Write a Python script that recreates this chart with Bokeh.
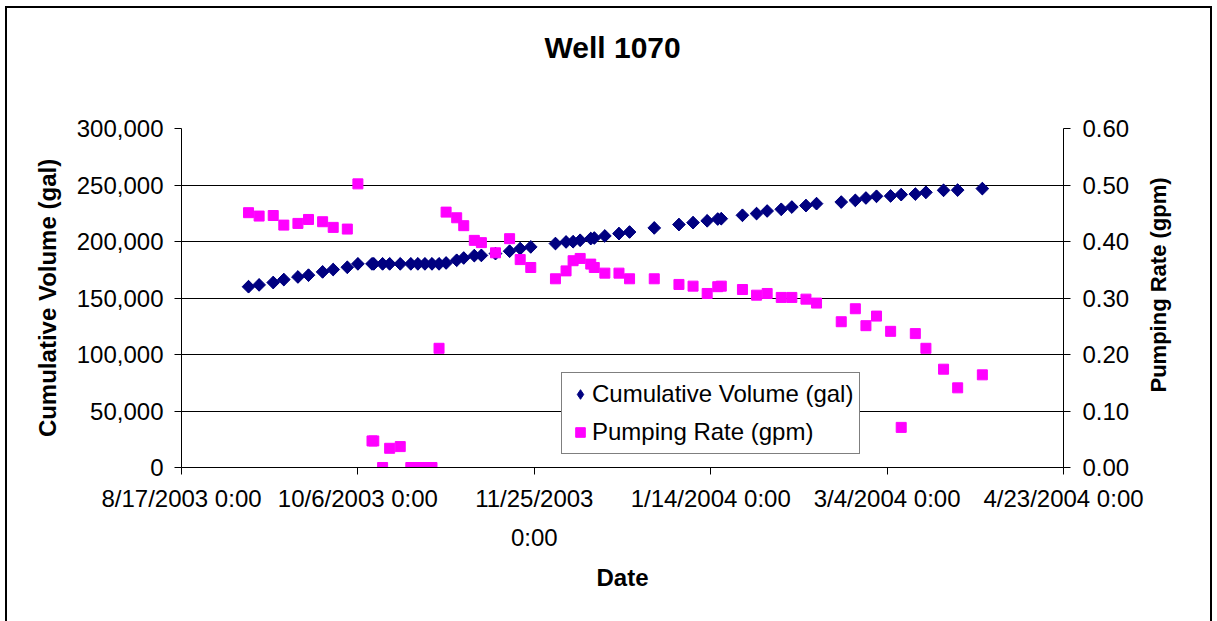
import pandas as pd
from math import pi
from bokeh.plotting import figure
from bokeh.models import (Range1d, LinearAxis, FixedTicker, NumeralTickFormatter,
                          Legend, LegendItem, ColumnDataSource, Title)
from bokeh.embed import file_html
from bokeh.resources import INLINE

# ---------------- data ----------------
title_text = "Well 1070"
x_title = "Date"
y_title = "Cumulative Volume (gal)"
y2_title = "Pumping Rate (gpm)"
series_names = ["Cumulative Volume (gal)", "Pumping Rate (gpm)"]

dates = [
    "2003-09-05", "2003-09-08", "2003-09-12", "2003-09-15", "2003-09-19",
    "2003-09-22", "2003-09-26", "2003-09-29", "2003-10-03", "2003-10-06",
    "2003-10-10 00:00", "2003-10-10 12:00", "2003-10-13", "2003-10-15", "2003-10-18",
    "2003-10-21", "2003-10-23", "2003-10-25", "2003-10-27", "2003-10-29",
    "2003-10-31", "2003-11-03", "2003-11-05", "2003-11-08", "2003-11-10",
    "2003-11-14", "2003-11-18", "2003-11-21", "2003-11-24", "2003-12-01",
    "2003-12-04", "2003-12-06", "2003-12-08", "2003-12-11", "2003-12-12",
    "2003-12-15", "2003-12-19", "2003-12-22", "2003-12-29", "2004-01-05",
    "2004-01-09", "2004-01-13", "2004-01-16", "2004-01-17", "2004-01-23",
    "2004-01-27", "2004-01-30", "2004-02-03", "2004-02-06", "2004-02-10",
    "2004-02-13", "2004-02-20", "2004-02-24", "2004-02-27", "2004-03-01",
    "2004-03-05", "2004-03-08", "2004-03-12", "2004-03-15", "2004-03-20",
    "2004-03-24", "2004-03-31",
]

volume_gal = [
    160000, 161600, 163700, 166300, 168600, 170200, 173100, 175200, 177200, 180200,
    180200, 180200, 180200, 180200, 180200, 180200, 180200, 180200, 180200, 180200,
    181000, 183400, 185400, 187500, 187700, 189300, 191400, 193700, 195200, 198200,
    199600, 199800, 201100, 202600, 203100, 204900, 207000, 208400, 212000, 215000,
    216700, 218300, 219900, 220200, 223200, 224700, 227000, 228500, 230500, 231800,
    233500, 234900, 236400, 238500, 240000, 240300, 241500, 242000, 243500, 245300,
    245500, 246800,
]

rate_gpm = [
    0.451, 0.445, 0.446, 0.429, 0.432, 0.439, 0.435, 0.425, 0.422, 0.502,
    0.047, 0.047, 0.000, 0.034, 0.037, 0.000, 0.000, 0.000, 0.000, 0.211,
    0.452, 0.442, 0.428, 0.402, 0.398, 0.380, 0.405, 0.368, 0.354, 0.334,
    0.348, 0.366, 0.370, 0.360, 0.354, 0.344, 0.344, 0.334, 0.334, 0.324,
    0.321, 0.308, 0.320, 0.321, 0.315, 0.305, 0.308, 0.301, 0.301, 0.298,
    0.291, 0.258, 0.281, 0.251, 0.268, 0.241, 0.071, 0.237, 0.211, 0.174,
    0.141, 0.164,
]

x_tick_dates = ["2003-08-17", "2003-10-06", "2003-11-25", "2004-01-14", "2004-03-04", "2004-04-23"]
x_tick_labels = ["8/17/2003 0:00", "10/6/2003 0:00", "11/25/2003\n0:00",
                 "1/14/2004 0:00", "3/4/2004 0:00", "4/23/2004 0:00"]
y_ticks = [0, 50000, 100000, 150000, 200000, 250000, 300000]
y2_ticks = [0.0, 0.1, 0.2, 0.3, 0.4, 0.5, 0.6]

# ---------------- layout constants ----------------
OX, OY = 7, 8                 # canvas origin on the page (margin + border)
CW, CH = 1207, 620            # canvas size
FL, FR, FT, FB = 181, 1063, 128, 467   # frame edges in page pixels
Y2_TITLE_START_PX = 392       # page y where the rotated right-axis title begins (its bottom end)
FONT = "Liberation Sans"
NAVY = "#000080"
MAGENTA = "#FF00FF"

origin = pd.Timestamp(x_tick_dates[0])
def to_day(s):
    return (pd.Timestamp(s) - origin) / pd.Timedelta(days=1)

x_days = [to_day(d) for d in dates]
tick_days = [to_day(d) for d in x_tick_dates]

def py_to_rate(py):
    return y2_ticks[0] + (FB - py) / (FB - FT) * (y2_ticks[-1] - y2_ticks[0])

src = ColumnDataSource(dict(x=x_days, vol=volume_gal, rate=rate_gpm))

p = figure(width=CW, height=CH, output_backend="svg", toolbar_location=None,
           x_range=Range1d(tick_days[0], tick_days[-1]),
           y_range=Range1d(y_ticks[0], y_ticks[-1]),
           min_border_left=FL - OX, min_border_right=OX + CW - FR,
           min_border_top=FT - OY, min_border_bottom=OY + CH - FB,
           title=None)
p.styles = {"margin-left": "5px", "margin-top": "6px", "border": "2px solid black"}
p.outline_line_color = None
p.background_fill_color = "white"
p.border_fill_color = "white"
p.extra_y_ranges = {"rate": Range1d(y2_ticks[0], y2_ticks[-1])}

# title: a blank spacer panel next to the frame, then the title above it
spacer = Title(text=" ", text_font=FONT, text_font_size="10px", standoff=52)
p.add_layout(spacer, "above")
ttl = Title(text=title_text, align="left", vertical_align="bottom", text_font=FONT,
            text_font_size="30px", text_font_style="bold", text_color="black",
            standoff=0, offset=363)
p.add_layout(ttl, "above")

# axes styling
def style_axis(ax, label=None):
    ax.axis_line_color = "black"
    ax.axis_line_width = 1
    ax.major_tick_line_color = "black"
    ax.major_tick_in = 0
    ax.major_tick_out = 7
    ax.minor_tick_line_color = None
    ax.major_label_text_font = FONT
    ax.major_label_text_font_size = "24px"
    ax.major_label_text_color = "black"
    if label is not None:
        ax.axis_label = label
        ax.axis_label_text_font = FONT
        ax.axis_label_text_font_size = "24px"
        ax.axis_label_text_font_style = "bold"
        ax.axis_label_text_color = "black"

xa = p.xaxis[0]
xa.ticker = FixedTicker(ticks=tick_days)
xa.major_label_overrides = {int(t): lab for t, lab in zip(tick_days, x_tick_labels)}
style_axis(xa, x_title)
xa.major_label_standoff = 10
xa.major_label_text_line_height = 1.45
xa.axis_label_standoff = 10

ya = p.yaxis[0]
ya.ticker = FixedTicker(ticks=y_ticks)
ya.formatter = NumeralTickFormatter(format="0,0")
style_axis(ya, y_title)
ya.major_label_standoff = 11
ya.axis_label_standoff = 13

ya2 = LinearAxis(y_range_name="rate", ticker=FixedTicker(ticks=y2_ticks),
                 formatter=NumeralTickFormatter(format="0.00"))
style_axis(ya2)
ya2.major_label_standoff = 12
p.add_layout(ya2, "right")

# right-axis title, drawn bottom-to-top as in the reference (rotated label of an unlined axis)
t_pos = py_to_rate(Y2_TITLE_START_PX)
ya3 = LinearAxis(y_range_name="rate", ticker=FixedTicker(ticks=[t_pos]),
                 major_label_overrides={t_pos: y2_title})
ya3.axis_line_color = None
ya3.major_tick_line_color = None
ya3.minor_tick_line_color = None
ya3.major_tick_out = 0
ya3.major_tick_in = 0
ya3.major_label_orientation = pi / 2
ya3.major_label_standoff = 26
ya3.major_label_text_font = FONT
ya3.major_label_text_font_size = "22px"
ya3.major_label_text_font_style = "bold"
ya3.major_label_text_color = "black"
p.add_layout(ya3, "right")

p.xgrid.grid_line_color = None
p.ygrid.ticker = FixedTicker(ticks=y_ticks)
p.ygrid.grid_line_color = "black"
p.ygrid.grid_line_width = 1

# glyphs: a diamond key glyph hidden under the rotated squares (legend swatches are never rotated)
r_vol_key = p.scatter("x", "vol", source=src, marker="diamond", size=12,
                      fill_color=NAVY, line_color=NAVY)
r_vol = p.scatter("x", "vol", source=src, marker="square", angle=pi / 4, size=9,
                  fill_color=NAVY, line_color=NAVY)
r_rate = p.scatter("x", "rate", source=src, y_range_name="rate", marker="square", size=10,
                   fill_color=MAGENTA, line_color=MAGENTA)

legend = Legend(items=[LegendItem(label=series_names[0], renderers=[r_vol_key]),
                       LegendItem(label=series_names[1], renderers=[r_rate])],
                location=(561 - FL, FB - 454))
legend.label_text_font = FONT
legend.label_text_font_size = "24px"
legend.label_text_color = "black"
legend.border_line_color = "black"
legend.border_line_width = 1
legend.background_fill_color = "white"
legend.background_fill_alpha = 1.0
legend.padding = 6
legend.spacing = 8
legend.margin = 0
legend.glyph_width = 24
legend.glyph_height = 24
legend.label_standoff = 0
legend.label_height = 30
p.add_layout(legend, "center")

open("out.html", "w").write(file_html(p, INLINE))
